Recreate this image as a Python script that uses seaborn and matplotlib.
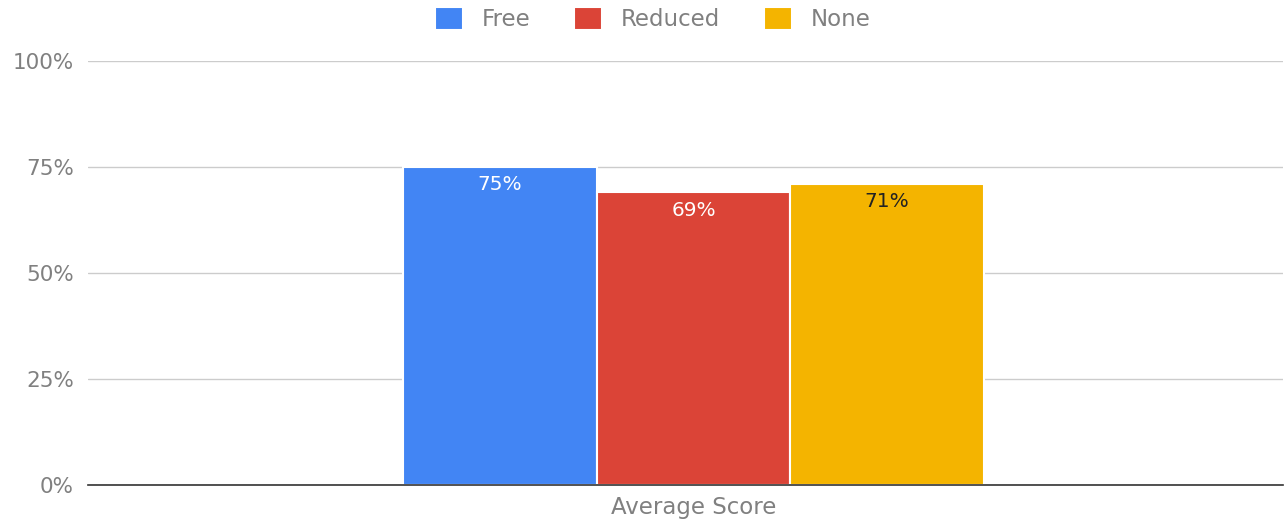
import pandas as pd
import numpy as np
import matplotlib.pyplot as plt
import seaborn as sns

# data
groups = ["Free", "Reduced", "None"]
scores = [75, 69, 71]
category = "Average Score"
colors = ["#4285F4", "#DB4437", "#F4B400"]
label_colors = ["white", "white", "#222222"]

df = pd.DataFrame({"cat": [category] * len(groups), "group": groups, "score": scores})

sns.set_style("white")
plt.rcParams['font.family'] = ['DejaVu Sans']

fig = plt.figure(figsize=(12.86, 5.19), dpi=100)
ax = fig.add_axes([88 / 1286, 1 - 485 / 519, (1283 - 88) / 1286, (485 - 61) / 519])

sns.barplot(data=df, x="cat", y="score", hue="group", palette=colors, saturation=1,
            width=0.8, edgecolor="white", linewidth=1.5, ax=ax, legend=True)

ax.set_xlim(-0.834, 0.812)
ax.set_ylim(0, 100)
ax.set_yticks([0, 25, 50, 75, 100])
ax.set_yticklabels([f"{t}%" for t in [0, 25, 50, 75, 100]])
ax.grid(axis='y', color='#cccccc', linewidth=1)
ax.set_axisbelow(True)
ax.set_xlabel('')
ax.set_ylabel('')

for s in ['top', 'right', 'left']:
    ax.spines[s].set_visible(False)
ax.spines['bottom'].set_color('#333333')
ax.spines['bottom'].set_linewidth(1.2)

ax.tick_params(axis='y', length=0, pad=10, labelsize=15.5, labelcolor='#808080')
ax.tick_params(axis='x', length=0, pad=8, labelsize=16.5, labelcolor='#808080')

# value labels inside the bars
for bar, val, lc in zip(ax.patches, scores, label_colors):
    ax.text(bar.get_x() + bar.get_width() / 2, val - 2.0, f"{val}%",
            ha='center', va='top', color=lc, fontsize=14.5)

ax.legend(loc='center', bbox_to_anchor=(0.5 - 33 / 1195, 1.099), ncol=3, frameon=False,
          fontsize=16.5, labelcolor='#808080', handlelength=1.22, handleheight=1.2,
          columnspacing=1.9, handletextpad=0.83, borderpad=0)

fig.savefig('out.png', dpi=100)
